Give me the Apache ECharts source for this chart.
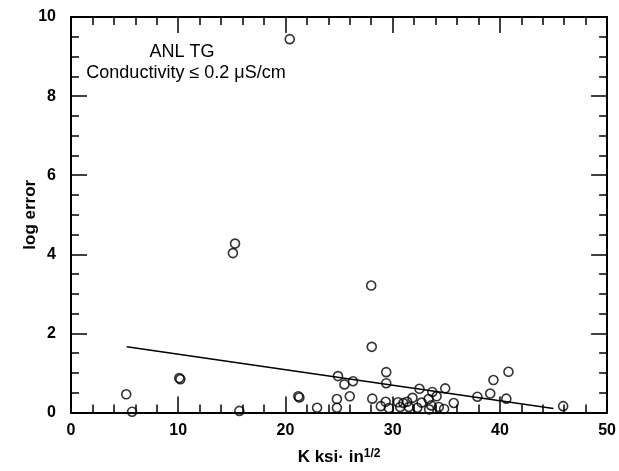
<!DOCTYPE html>
<html>
<head>
<meta charset="utf-8">
<script src="https://cdn.jsdelivr.net/npm/echarts@6/dist/echarts.min.js"></script>
<style>
  html, body { margin: 0; padding: 0; background: #fff; }
  #chart { width: 619px; height: 471px; }
</style>
</head>
<body>
<div id="chart"></div>
<script>
// Stress intensity K (ksi·in^1/2) and log error for each specimen
const kValues = [
  5.15, 5.7, 10.1, 10.2, 15.1, 15.3, 15.7, 20.4, 21.2, 21.3,
  22.95, 24.8, 24.8, 24.9, 25.5, 26.0, 26.3, 28.0, 28.05, 28.1,
  28.9, 29.35, 29.4, 29.4, 29.65, 30.5, 30.7, 31.0, 31.35, 31.5,
  31.85, 32.3, 32.5, 32.7, 33.35, 33.4, 33.6, 33.7, 34.1, 34.3,
  34.8, 34.9, 35.7, 37.9, 39.1, 39.4, 40.8, 40.6, 45.9
];
const logErrors = [
  0.46, 0.02, 0.87, 0.84, 4.03, 4.27, 0.04, 9.44, 0.41, 0.38,
  0.12, 0.12, 0.34, 0.92, 0.71, 0.41, 0.79, 3.21, 1.66, 0.35,
  0.16, 0.27, 1.02, 0.74, 0.11, 0.26, 0.14, 0.24, 0.27, 0.14,
  0.37, 0.12, 0.60, 0.25, 0.34, 0.08, 0.18, 0.52, 0.41, 0.14,
  0.09, 0.61, 0.24, 0.40, 0.48, 0.82, 1.03, 0.35, 0.16
];

// Fitted trend line end points
const fitK = [5.2, 45.0];
const fitLogError = [1.66, 0.10];

const xTicks = [0, 10, 20, 30, 40, 50];
const yTicks = [0, 2, 4, 6, 8, 10];

const noteLines = ['ANL TG', 'Conductivity \u2264 0.2 \u03bcS/cm'];

const FONT = '"Liberation Sans", Arial, Helvetica, sans-serif';

const points = kValues.map((k, i) => [k, logErrors[i]]);
const fitLine = fitK.map((k, i) => [k, fitLogError[i]]);

const chart = echarts.init(document.getElementById('chart'), null, { renderer: 'canvas' });

const axisLine = { show: true, onZero: false, lineStyle: { color: '#000', width: 2 } };
const tickStyle = { color: '#000', width: 1.5 };

function xAxisBase(position, showLabels) {
  return {
    type: 'value',
    position: position,
    min: xTicks[0],
    max: xTicks[xTicks.length - 1],
    interval: xTicks[1] - xTicks[0],
    axisLine: axisLine,
    axisTick: { show: true, inside: true, length: 16, lineStyle: tickStyle },
    minorTick: { show: true, splitNumber: 5, length: 8, lineStyle: tickStyle },
    splitLine: { show: false },
    axisLabel: {
      show: showLabels,
      color: '#000',
      fontFamily: FONT,
      fontSize: 16,
      fontWeight: 'bold',
      margin: 10
    }
  };
}

function yAxisBase(position, showLabels) {
  return {
    type: 'value',
    position: position,
    min: yTicks[0],
    max: yTicks[yTicks.length - 1],
    interval: yTicks[1] - yTicks[0],
    axisLine: axisLine,
    axisTick: { show: true, inside: true, length: 16, lineStyle: tickStyle },
    minorTick: { show: true, splitNumber: 4, length: 8, lineStyle: tickStyle },
    splitLine: { show: false },
    axisLabel: {
      show: showLabels,
      color: '#000',
      fontFamily: FONT,
      fontSize: 16,
      fontWeight: 'bold',
      margin: 15
    }
  };
}

const xBottom = xAxisBase('bottom', true);
xBottom.name = '{n|K ksi\u00b7 in}{s|1/2}';
xBottom.nameLocation = 'middle';
xBottom.nameGap = 35;
xBottom.nameMoveOverlap = false;
xBottom.nameTextStyle = {
  rich: {
    n: { fontFamily: FONT, fontSize: 17, fontWeight: 'bold', color: '#000' },
    s: { fontFamily: FONT, fontSize: 12, fontWeight: 'bold', color: '#000', verticalAlign: 'top', padding: [0, 0, 8, 0] }
  }
};

const yLeft = yAxisBase('left', true);
yLeft.name = 'log error';
yLeft.nameLocation = 'middle';
yLeft.nameGap = 32;
yLeft.nameMoveOverlap = false;
yLeft.nameTextStyle = { fontFamily: FONT, fontSize: 17, fontWeight: 'bold', color: '#000' };

const option = {
  backgroundColor: '#fff',
  animation: false,
  grid: { left: 71, right: 7, top: 17, bottom: 58, containLabel: false },
  xAxis: [xBottom, xAxisBase('top', false)],
  yAxis: [yLeft, yAxisBase('right', false)],
  graphic: [
    {
      type: 'text',
      style: {
        text: noteLines[0],
        x: 182, y: 52,
        align: 'center', verticalAlign: 'middle',
        font: '18px ' + FONT,
        fill: '#000'
      }
    },
    {
      type: 'text',
      style: {
        text: noteLines[1],
        x: 186, y: 73,
        align: 'center', verticalAlign: 'middle',
        font: '18px ' + FONT,
        fill: '#000'
      }
    }
  ],
  series: [
    {
      type: 'line',
      xAxisIndex: 0,
      yAxisIndex: 0,
      data: fitLine,
      symbol: 'none',
      lineStyle: { color: '#000', width: 1.5 },
      z: 2
    },
    {
      type: 'scatter',
      xAxisIndex: 0,
      yAxisIndex: 0,
      data: points,
      symbol: 'circle',
      symbolSize: 9,
      itemStyle: { color: 'rgba(255,255,255,0)', borderColor: '#000', borderWidth: 1.6 },
      z: 3
    }
  ]
};

chart.setOption(option);
</script>
</body>
</html>
